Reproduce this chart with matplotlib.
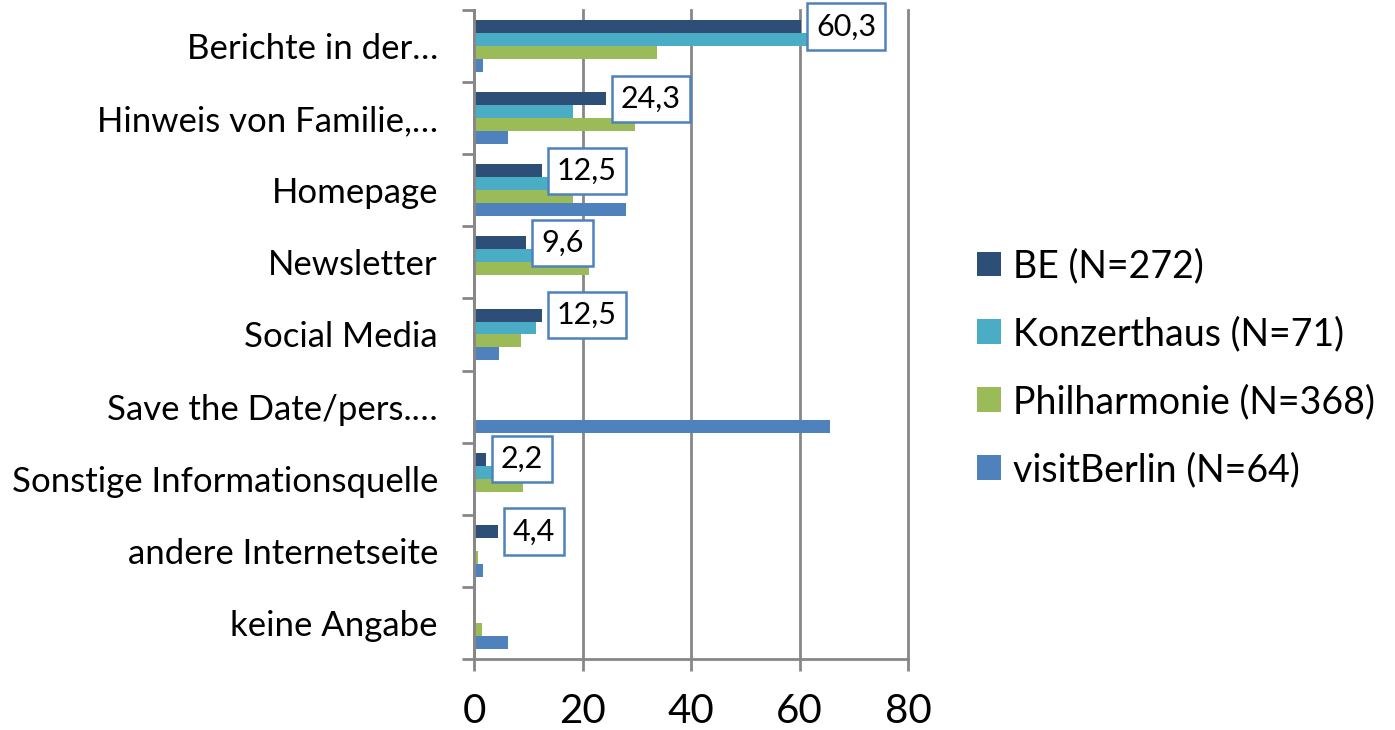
import matplotlib
matplotlib.use("Agg")
import matplotlib.pyplot as plt
from matplotlib.patches import Patch
from matplotlib.ticker import FixedLocator
import numpy as np

plt.rcParams['font.family'] = ['Lato', 'DejaVu Sans']

categories = ["Berichte in der…", "Hinweis von Familie,…", "Homepage", "Newsletter",
              "Social Media", "Save the Date/pers.…", "Sonstige Informationsquelle",
              "andere Internetseite", "keine Angabe"]
series_names = ["BE (N=272)", "Konzerthaus (N=71)", "Philharmonie (N=368)", "visitBerlin (N=64)"]
be = [60.3, 24.3, 12.5, 9.6, 12.5, 0, 2.2, 4.4, 0]
konzerthaus = [62.0, 18.3, 14.1, 11.3, 11.4, 0, 4.2, 0, 0]
philharmonie = [33.7, 29.6, 18.2, 21.2, 8.7, 0, 9.0, 0.7, 1.5]
visitberlin = [1.6, 6.3, 28.1, 0, 4.7, 65.6, 0, 1.6, 6.3]
x_ticks = [0, 20, 40, 60, 80]

colors = ["#2D4E77", "#4BACC6", "#9BBB59", "#4F81BD"]
all_series = [be, konzerthaus, philharmonie, visitberlin]

fig = plt.figure(figsize=(13.95, 7.3), dpi=100)
ax = fig.add_axes([474/1395, 1 - 659/730, 434/1395, 649/730])

n = len(categories)
y = np.arange(n)
h = 0.18
offsets = [-1.5 * h, -0.5 * h, 0.5 * h, 1.5 * h]
for vals, col, off in zip(all_series, colors, offsets):
    ax.barh(y + off, vals, height=h, color=col, zorder=3, edgecolor='none')

ax.set_ylim(n - 0.5, -0.5)
ax.set_xlim(0, 80)
ax.xaxis.set_major_locator(FixedLocator(x_ticks))
ax.set_xticklabels([str(t) for t in x_ticks])
ax.set_yticks(y)
ax.set_yticklabels(categories)
ax.yaxis.set_minor_locator(FixedLocator(np.arange(n + 1) - 0.5))

gray = "#878787"
ax.grid(axis='x', color=gray, linewidth=2, zorder=0)
for gl in ax.get_xgridlines():
    gl.set_clip_on(False)
for s in ['top', 'right']:
    ax.spines[s].set_visible(False)
for s in ['left', 'bottom']:
    ax.spines[s].set_color(gray)
    ax.spines[s].set_linewidth(2)
    ax.spines[s].set_zorder(4)

ax.tick_params(axis='y', which='major', length=0, pad=26, labelsize=25)
ax.tick_params(axis='y', which='minor', length=8.6, width=2, color=gray, direction='out')
ax.tick_params(axis='x', which='major', length=8.6, width=2, color=gray, direction='out',
               labelsize=29, pad=16)

# data labels for BE series
for yi, v in zip(y, be):
    if v > 0:
        ax.annotate(f"{v:.1f}".replace('.', ','), xy=(v, yi + offsets[0]),
                    xytext=(15, 0), textcoords='offset pixels',
                    ha='left', va='center', fontsize=22, zorder=6,
                    bbox=dict(boxstyle='square,pad=0.3', facecolor='white',
                              edgecolor='#4F81BD', linewidth=1.8))

handles = [Patch(facecolor=c, edgecolor='none') for c in colors]
fig.legend(handles, series_names, loc='center left', bbox_to_anchor=(977/1395, 1 - 368/730),
           frameon=False, fontsize=27, handlelength=0.64, handleheight=0.64,
           handletextpad=0.32, labelspacing=0.85, borderpad=0, borderaxespad=0)

fig.savefig("out.png", dpi=100)
